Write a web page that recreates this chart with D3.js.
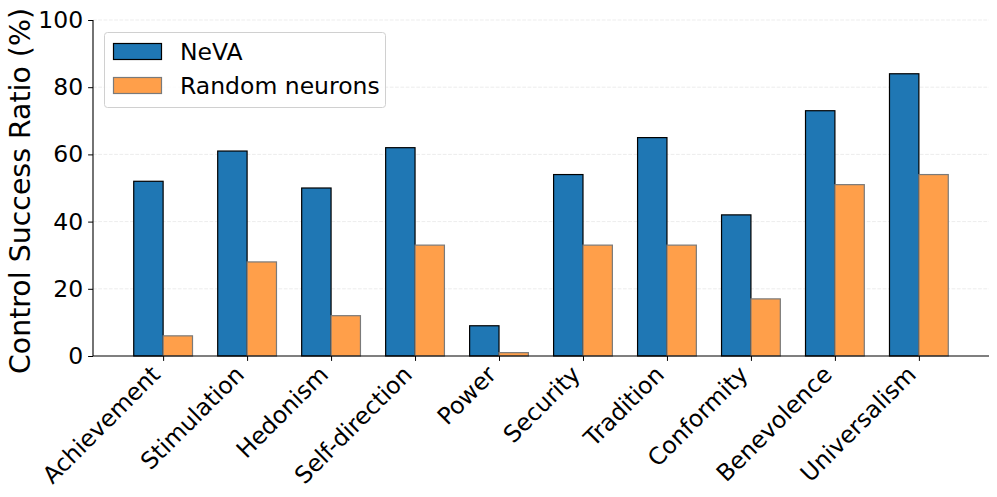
<!DOCTYPE html>
<html><head><meta charset="utf-8">
<script src="https://cdn.jsdelivr.net/npm/d3@7"></script>
<style>body{margin:0;background:#fff}svg{display:block}text{font-family:"DejaVu Sans",sans-serif}</style>
</head><body><svg id="c" width="997" height="497"></svg>
<script>
const categories = ["Achievement","Stimulation","Hedonism","Self-direction","Power","Security","Tradition","Conformity","Benevolence","Universalism"];
const nevaValues = [52,61,50,62,9,54,65,42,73,84];
const randomValues = [6,28,12,33,1,33,33,17,51,54];
const seriesNames = ["NeVA","Random neurons"];
const yTicks = [0,20,40,60,80,100];

const svg = d3.select("#c");
const L = 93, R = 989, T = 20, B = 356;
const bw = 0.35;
const x = d3.scaleLinear().domain([-0.835, categories.length - 1 + 0.835]).range([L, R]);
const y = d3.scaleLinear().domain([0, 100]).range([B, T]);

// grid
svg.append("g").selectAll("line").data(yTicks.filter(d=>d>0)).join("line")
  .attr("x1", L).attr("x2", R).attr("y1", d=>y(d)).attr("y2", d=>y(d))
  .attr("stroke", "#b0b0b0").attr("stroke-opacity", 0.3).attr("stroke-dasharray", "3.7,1.6").attr("stroke-width", 0.8);

// bars
const g = svg.append("g");
g.selectAll("rect.a").data(nevaValues).join("rect")
  .attr("x", (d,i)=>x(i - bw)).attr("width", (d,i)=>x(i)-x(i-bw))
  .attr("y", d=>y(d)).attr("height", d=>y(0)-y(d))
  .attr("fill", "#1f77b4").attr("stroke", "#000").attr("stroke-width", 1.2);
g.selectAll("rect.b").data(randomValues).join("rect")
  .attr("x", (d,i)=>x(i)).attr("width", (d,i)=>x(i+bw)-x(i))
  .attr("y", d=>y(d)).attr("height", d=>y(0)-y(d))
  .attr("fill", "#ff9f4a").attr("stroke", "#7a7a7a").attr("stroke-width", 1.2);

// axes
const yAxis = d3.axisLeft(y).tickValues(yTicks).tickSize(4.9).tickPadding(5);
const ya = svg.append("g").attr("transform", `translate(${L},0)`).call(yAxis);
ya.select(".domain").attr("stroke", "#000").attr("stroke-width", 1.1).attr("d", `M0,${B}V${T}`);
ya.selectAll("text").attr("font-size", "23.5px").attr("fill", "#000");

const xa = svg.append("g").attr("transform", `translate(0,${B})`)
  .call(d3.axisBottom(x).tickValues(d3.range(categories.length)).tickSize(4.9).tickFormat(i=>categories[i]));
xa.select(".domain").attr("stroke", "#000").attr("stroke-width", 1.1).attr("d", `M${L},0H${R}`);
xa.selectAll("text").attr("font-size", "23.5px").attr("fill", "#000")
  .attr("text-anchor", "end").attr("dy", null).attr("y", null)
  .attr("transform", "translate(-2,20) rotate(-45)");

// y label
svg.append("text").attr("transform", `translate(30,191) rotate(-90)`)
  .attr("text-anchor", "middle").attr("font-size", "28.4px").text("Control Success Ratio (%)");

// legend
const lg = svg.append("g");
lg.append("rect").attr("x", 104.5).attr("y", 32.5).attr("width", 281).attr("height", 75).attr("rx", 3)
  .attr("fill", "#fff").attr("fill-opacity", 0.8).attr("stroke", "#d0d0d0");
const lcol = [["#1f77b4","#000"],["#ff9f4a","#7a7a7a"]];
seriesNames.forEach((n,i)=>{
  lg.append("rect").attr("x", 113.5).attr("y", 43.5 + i*34).attr("width", 48).attr("height", 16)
    .attr("fill", lcol[i][0]).attr("stroke", lcol[i][1]).attr("stroke-width", 1.2);
  lg.append("text").attr("x", 180).attr("y", 59.5 + i*34).attr("font-size", "23.5px").text(n);
});
</script></body></html>
